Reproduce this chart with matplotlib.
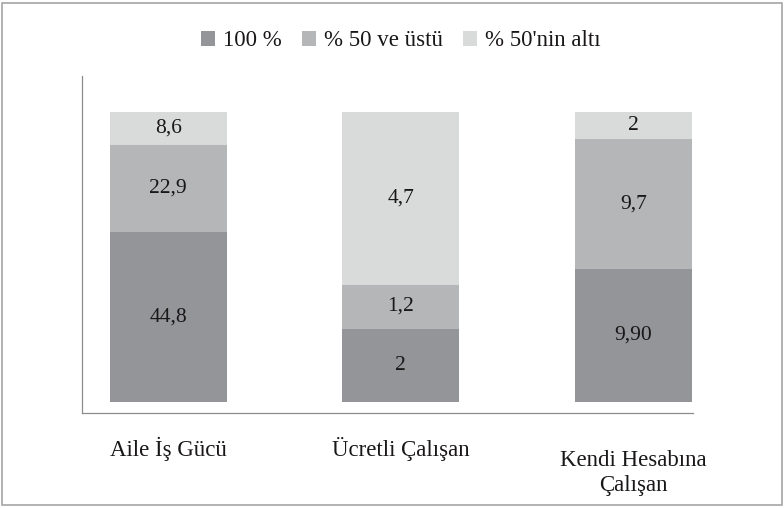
import numpy as np
import matplotlib.pyplot as plt
from matplotlib.patches import Rectangle

categories = ['Aile İş Gücü', 'Ücretli Çalışan', 'Kendi Hesabına\nÇalışan']
series_names = ['100 %', '% 50 ve üstü', "% 50'nin altı"]
full = [44.8, 2, 9.90]
over_half = [22.9, 1.2, 9.7]
under_half = [8.6, 4.7, 2]
value_labels = [['44,8', '2', '9,90'],
                ['22,9', '1,2', '9,7'],
                ['8,6', '4,7', '2']]
colors = ['#939598', '#b4b6b7', '#d9dada']
text_color = '#1a1718'

plt.rcParams['font.family'] = ['Liberation Serif', 'DejaVu Serif']

fig = plt.figure(figsize=(7.84, 5.08), dpi=100)
fig.patches.append(Rectangle((0.003, 0.006), 0.994, 0.988, transform=fig.transFigure,
                             fill=False, edgecolor='#a6a6a6', linewidth=1.2))
ax = fig.add_axes([82 / 784, 1 - 413 / 508, (693 - 82) / 784, (413 - 76) / 508])

data = np.array([full, over_half, under_half])
shares = data / data.sum(axis=0)
x = np.arange(len(categories))
bottom = np.zeros(len(categories))
for i in range(3):
    ax.bar(x, shares[i], bottom=bottom, width=0.503, color=colors[i],
           label=series_names[i], linewidth=0)
    for j in range(len(categories)):
        ax.text(x[j], bottom[j] + shares[i][j] / 2, value_labels[i][j],
                ha='center', va='center', fontsize=15.5, color=text_color)
    bottom += shares[i]

ax.set_xlim(-0.37, 2.256)
ax.set_ylim(-0.038, 1.124)
ax.set_yticks([])
ax.set_xticks([])

# category labels below the axis (two-line label sits a bit lower, as in the original)
for j, cat in enumerate(categories):
    n_lines = cat.count('\n') + 1
    offset = -26 if n_lines == 1 else -27
    ax.annotate(cat, xy=(x[j], 0), xycoords=('data', 'axes fraction'),
                xytext=(0, offset), textcoords='offset points',
                ha='center', va='center' if n_lines == 1 else 'top',
                fontsize=16.5, color=text_color, linespacing=1.25)

for s in ['top', 'right']:
    ax.spines[s].set_visible(False)
for s in ['left', 'bottom']:
    ax.spines[s].set_color('#8c8c8c')
    ax.spines[s].set_linewidth(0.9)

fig.legend(loc='center', bbox_to_anchor=(0.511, 1 - 41 / 508), ncol=3, frameon=False,
           fontsize=16.5, handlelength=0.62, handleheight=0.62, handletextpad=0.35,
           columnspacing=0.87, labelcolor=text_color)

fig.savefig('out.png', dpi=100)
